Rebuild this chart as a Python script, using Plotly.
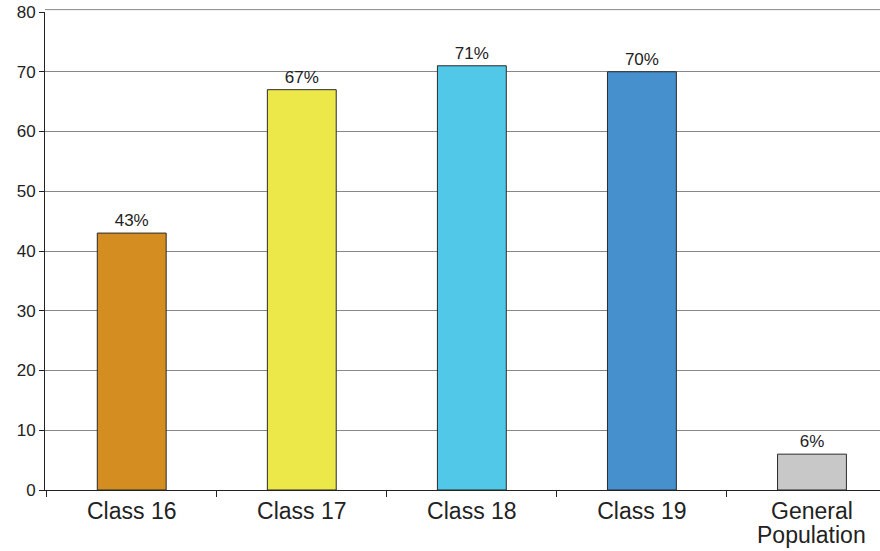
import plotly.graph_objects as go

categories = ["Class 16", "Class 17", "Class 18", "Class 19", "General Population"]
tick_text = ["Class 16", "Class 17", "Class 18", "Class 19", "General"]
values = [43, 67, 71, 70, 6]
labels = ["43%", "67%", "71%", "70%", "6%"]
colors = ["#D38D20", "#EDE84A", "#52C8E8", "#4790CE", "#C8C8C8"]
y_ticks = [0, 10, 20, 30, 40, 50, 60, 70, 80]

FONT = "Liberation Sans, Arial"

fig = go.Figure(go.Bar(
    x=categories, y=values, text=labels, textposition="outside",
    marker=dict(color=colors, line=dict(color="#2a2a2a", width=1)),
    width=0.405, cliponaxis=False,
    textfont=dict(family=FONT, size=17, color="#222"),
))

fig.update_layout(
    width=880, height=551,
    margin=dict(l=45, r=0, t=12, b=61, autoexpand=False),
    plot_bgcolor="white", paper_bgcolor="white",
    showlegend=False,
    font=dict(family=FONT, color="#222"),
    xaxis=dict(
        type="category", range=[-0.51, 4.4], tickson="boundaries",
        tickvals=categories, ticktext=tick_text,
        ticks="outside", ticklen=6, tickcolor="#222",
        showline=True, linecolor="#222", linewidth=1,
        showgrid=False, tickfont=dict(size=23), automargin=False,
    ),
    yaxis=dict(
        range=[0, 80], tickvals=y_ticks, ticks="outside", ticklen=5,
        tickcolor="#222", showline=True, linecolor="#222", linewidth=1,
        gridcolor="#888", gridwidth=1, zeroline=False,
        tickfont=dict(size=17), automargin=False, ticklabeloverflow="allow",
    ),
    shapes=[dict(type="line", xref="paper", yref="paper", x0=0, x1=1,
                 y0=1.005, y1=1.005, line=dict(color="#888", width=1))],
    annotations=[dict(x=categories[4], xref="x", y=-0.094, yref="paper",
                      yanchor="middle", text="Population", showarrow=False,
                      font=dict(size=23, color="#222", family=FONT))],
)

fig.write_html("out.html", config={"displayModeBar": False},
               post_script="document.body.style.margin='0';")
